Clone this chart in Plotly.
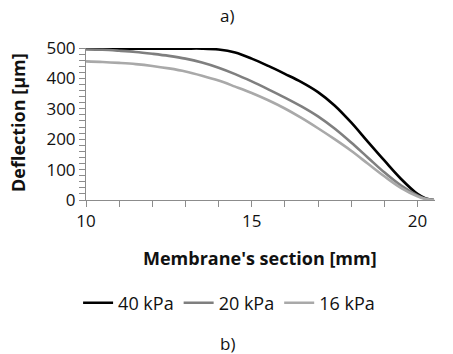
import plotly.graph_objects as go

x_mm = [10, 10.5, 11, 11.5, 12, 12.5, 13, 13.5, 14, 14.5, 15, 15.5, 16, 16.5, 17, 17.5, 18, 18.5, 19, 19.5, 20, 20.25, 20.5]
y_40 = [498, 498, 498, 498, 498, 498, 498, 498, 495, 485, 465, 441, 415, 388, 355, 311, 255, 192, 130, 70, 20, 5, 0]
y_20 = [495, 494, 491, 487, 481, 474, 465, 452, 435, 414, 390, 364, 337, 308, 275, 235, 189, 140, 91, 48, 15, 4, 0]
y_16 = [456, 454, 451, 447, 441, 433, 423, 409, 393, 373, 352, 328, 301, 270, 236, 200, 162, 120, 78, 40, 12, 3, 0]

series = [("40 kPa", y_40, "#000000"), ("20 kPa", y_20, "#7f7f7f"), ("16 kPa", y_16, "#a9a9a9")]

FONT = "Open Sans"
fig = go.Figure()
for name, ys, col in series:
    fig.add_trace(go.Scatter(x=x_mm, y=ys, mode="lines", name=name,
                             line=dict(color=col, width=2.6, shape="spline", smoothing=1.0)))

W, H = 453, 354
L, T, R, B = 86, 48, 18, 154
pw, ph = W - L - R, H - T - B
axcol = "#8c8c8c"


def ann(text, fx, fy, size, angle=0):
    return dict(text=text, x=(fx - L) / pw, y=(T + ph - fy) / ph, xref="paper", yref="paper",
                xanchor="center", yanchor="middle", showarrow=False, textangle=angle,
                font=dict(size=size))


fig.update_layout(
    width=W, height=H,
    margin=dict(l=L, r=R, t=T, b=B, autoexpand=False),
    paper_bgcolor="white", plot_bgcolor="white",
    font=dict(family=FONT, size=17, color="#111111"),
    showlegend=True,
    legend=dict(orientation="h", x=0.41, xanchor="center", y=(T + ph - 303) / ph, yanchor="middle",
                font=dict(size=18), itemwidth=30, tracegroupgap=0, bgcolor="rgba(0,0,0,0)"),
    xaxis=dict(range=[10, 20.53], tickvals=[10, 15, 20], showgrid=False, zeroline=False,
               showline=True, linecolor=axcol, linewidth=1,
               ticks="outside", ticklen=6, tickcolor=axcol,
               minor=dict(dtick=1, ticks="outside", ticklen=6, tickcolor=axcol),
               tickfont=dict(size=17)),
    yaxis=dict(range=[0, 500], dtick=100, showgrid=False, zeroline=False,
               showline=True, linecolor=axcol, linewidth=1,
               ticks="outside", ticklen=6, tickcolor=axcol,
               minor=dict(dtick=20, ticks="outside", ticklen=6, tickcolor=axcol),
               tickfont=dict(size=17)),
    annotations=[
        ann("a)", 227, 15, 17),
        ann("b)", 227, 343, 17),
        ann("<b>Membrane's section [mm]</b>", 260, 258, 18),
        ann("<b>Deflection [µm]</b>", 18, 123, 18, -90),
    ],
)
fig.write_html("out.html", config={"displayModeBar": False},
               post_script="document.body.style.margin='0px';")
